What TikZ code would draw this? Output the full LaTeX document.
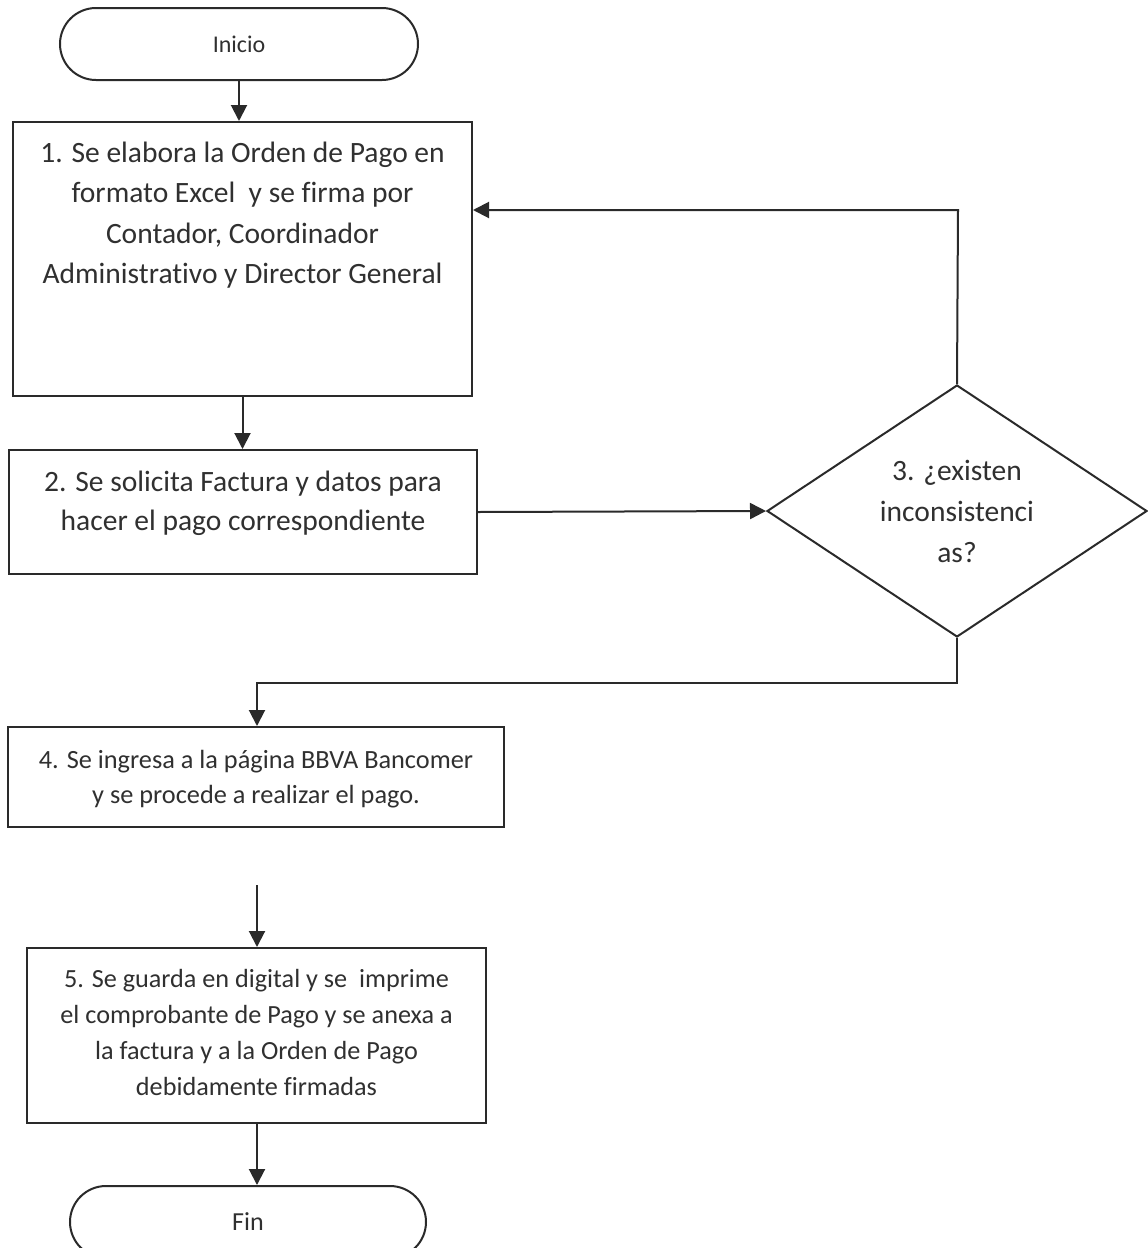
\documentclass[tikz,border=0pt]{standalone}
\usepackage{fontspec}
\setmainfont{Carlito}[Ligatures={NoCommon}]
\usetikzlibrary{arrows.meta,shapes.geometric}
\definecolor{ink}{HTML}{2A2A2A}
\definecolor{txt}{HTML}{303030}
% top-aligned text block inside a box of given height and width
\newcommand{\steptext}[4]{\parbox[c][#1][t]{#2}{\centering\vspace*{#3}#4}}

\begin{document}
\begin{tikzpicture}[x=1pt,y=-1pt,
  line/.style={draw=ink,line width=2pt},
  arr/.style={line,-{Triangle[width=16pt,length=16pt]}},
  stepbox/.style={draw=ink,line width=2pt,rectangle,inner sep=0pt,text=txt},
  term/.style={draw=ink,line width=2pt,rectangle,inner sep=0pt,text=txt},
  decision/.style={draw=ink,line width=2pt,diamond,aspect=1.5,inner sep=0pt,text=txt,align=center}
]
\fill[white] (0,0) rectangle (1148,1248);
\useasboundingbox (0,0) rectangle (1148,1248);

% terminals
\node[term,minimum width=358pt,minimum height=72pt,rounded corners=36pt,
      font=\fontsize{24}{28}\selectfont] (ini) at (239,44) {Inicio};
\node[term,minimum width=356pt,minimum height=72pt,rounded corners=36pt,
      font=\fontsize{26}{30}\selectfont] (fin) at (248,1222) {Fin};

% process steps
\node[stepbox,minimum width=459pt,minimum height=274pt] (b1) at (242.5,259)
  {\fontsize{29.5}{40.5}\selectfont\steptext{274pt}{459pt}{20pt}{1. Se elabora la Orden de Pago en\\formato Excel\ \ y se firma por\\Contador, Coordinador\\Administrativo y Director General}};
\node[stepbox,minimum width=468pt,minimum height=124pt] (b2) at (243,512)
  {\fontsize{29.5}{39}\selectfont\steptext{124pt}{468pt}{21pt}{2. Se solicita Factura y datos para\\hacer el pago correspondiente}};
\node[decision,minimum width=380pt,minimum height=252pt,
      font=\fontsize{29.5}{41}\selectfont] (d) at (957,511) {3. ¿existen\\inconsistenci\\as?};
\node[stepbox,minimum width=496pt,minimum height=100pt] (b4) at (256,777)
  {\fontsize{26.3}{35}\selectfont\steptext{100pt}{496pt}{23pt}{4. Se ingresa a la página BBVA Bancomer\\y se procede a realizar el pago.}};
\node[stepbox,minimum width=459pt,minimum height=175pt] (b5) at (256.5,1035.5)
  {\fontsize{26.2}{36}\selectfont\steptext{175pt}{459pt}{21pt}{5. Se guarda en digital y se\ \ imprime\\el comprobante de Pago y se anexa a\\la factura y a la Orden de Pago\\debidamente firmadas}};

% connectors
\coordinate (loop) at (958,210);
\coordinate (jn) at (257,683);
\coordinate (fs) at (257,885);

\draw[arr] (ini.south) -- (ini.south |- b1.north);
\draw[arr] (b1.south) -- (b1.south |- b2.north);
\draw[arr] (b2.east) -- (d.west);
\draw[arr] (d.north) -- (loop) -- (b1.east |- loop);
\draw[arr] (d.south) |- (jn) -- (jn |- b4.north);
\draw[arr] (fs) -- (fs |- b5.north);
\draw[arr] (b5.south -| jn) -- (jn |- fin.north);
\end{tikzpicture}
\end{document}
